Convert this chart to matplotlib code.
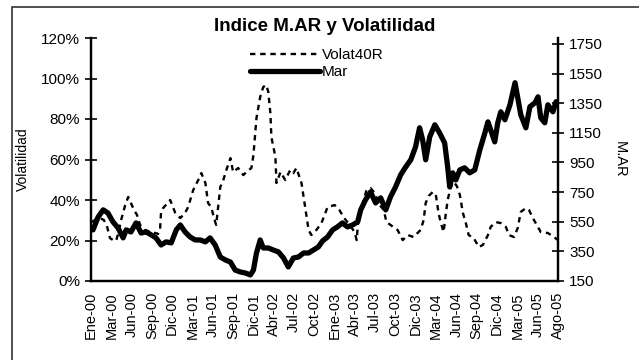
import numpy as np
import matplotlib
matplotlib.use("Agg")
import matplotlib.pyplot as plt
from matplotlib.patches import Rectangle

plt.rcParams['font.family'] = ['Liberation Sans', 'DejaVu Sans']

# trading-day index (one category label every 60 days)
mar_day = [6, 21, 36, 50, 65, 80, 95, 104, 118, 133, 148, 163, 178, 192, 207, 222,
           237, 252, 264, 278, 293, 308, 323, 338, 352, 367, 382, 397, 412, 426, 441,
           456, 471, 480, 489, 500, 509, 524, 539, 554, 569, 583, 598, 613, 628, 643,
           657, 672, 684, 699, 714, 728, 743, 758, 773, 788, 797, 811, 826, 841, 856,
           871, 885, 900, 915, 930, 945, 959, 971, 980, 989, 1001, 1016, 1030, 1045,
           1054, 1060, 1069, 1078, 1090, 1104, 1119, 1134, 1149, 1164, 1173, 1181,
           1193, 1202, 1211, 1223, 1238, 1253, 1261, 1270, 1285, 1297, 1312, 1321,
           1329, 1341, 1350, 1365, 1374, 1380]
mar = [495, 582, 630, 609, 549, 508, 441, 495, 481, 542, 474, 481, 461, 441, 393, 414,
       407, 495, 528, 481, 447, 427, 427, 414, 441, 393, 312, 292, 278, 224, 211,
       204, 191, 224, 339, 427, 373, 373, 359, 346, 305, 245, 305, 312, 339, 339,
       359, 380, 420, 447, 495, 515, 542, 515, 528, 549, 630, 697, 751, 677, 711,
       630, 718, 785, 866, 920, 968, 1055, 1184, 1103, 968, 1123, 1204, 1150, 1082,
       920, 785, 880, 832, 900, 914, 880, 900, 1035, 1150, 1224, 1170,
       1089, 1218, 1292, 1238, 1339, 1488, 1387, 1272, 1184, 1326, 1353, 1393,
       1251, 1218, 1339, 1292, 1360, 1353]

vol_day = [3, 15, 27, 38, 47, 56, 65, 74, 80, 89, 101, 110, 118, 127, 136, 145, 160,
           175, 190, 198, 204, 207, 213, 234, 249, 264, 278, 287, 302, 317, 326, 338,
           346, 355, 367, 370, 382, 391, 400, 412, 420, 435, 450, 459, 474, 480, 489,
           500, 509, 518, 524, 530, 533, 545, 548, 560, 574, 589, 598, 607, 622, 634,
           643, 651, 666, 681, 699, 720, 734, 746, 764, 779, 785, 791, 802, 814, 826,
           838, 853, 865, 873, 885, 897, 906, 921, 936, 953, 974, 983, 989, 998, 1010,
           1019, 1027, 1033, 1042, 1048, 1054, 1063, 1072, 1081, 1090, 1099, 1107,
           1116, 1131, 1146, 1158, 1173, 1181, 1196, 1211, 1226, 1235, 1250, 1261,
           1270, 1285, 1294, 1309, 1329, 1350, 1368, 1380]
vol = [29.1, 30.6, 31.1, 30.1, 27.2, 21.2, 20.2, 19.8, 23.2, 30.1, 37.5, 41.5, 38.5,
       35.1, 32.6, 27.7, 25.2, 24.2, 23.7, 23.2, 25.2, 34.1, 36.0, 40.0, 33.6, 31.1,
       33.6, 36.5, 44.9, 49.9, 53.3, 48.4, 38.5, 36.5, 29.1, 27.7, 46.4, 49.9, 54.8,
       60.7, 53.8, 55.8, 52.3, 53.8, 55.8, 62.2, 80.5, 90.9, 95.8, 96.8, 93.3, 83.0,
       71.1, 61.2, 48.4, 53.8, 49.9, 54.8, 53.3, 55.8, 48.4, 35.1, 25.2, 22.7, 25.2,
       28.6, 36.5, 37.5, 35.1, 31.6, 27.7, 24.2, 20.2, 32.6, 37.5, 44.9, 45.9, 43.5,
       37.5, 35.1, 29.1, 27.7, 26.2, 25.2, 20.2, 22.7, 21.7, 25.2, 30.1, 38.5, 42.0,
       44.0, 42.5, 33.6, 29.1, 24.2, 32.6, 40.0, 46.4, 48.9, 46.9, 42.5, 33.6, 29.1,
       22.7, 21.2, 16.8, 17.8, 22.7, 26.7, 29.1, 28.6, 26.7, 22.7, 21.7, 26.2, 34.1,
       36.0, 35.1, 30.1, 24.2, 23.7, 21.7, 20.2]

tick_labels = ["Ene-00", "Mar-00", "Jun-00", "Sep-00", "Dic-00", "Mar-01", "Jun-01",
               "Sep-01", "Dic-01", "Abr-02", "Jul-02", "Oct-02", "Ene-03", "Abr-03",
               "Jul-03", "Oct-03", "Dic-03", "Mar-04", "Jun-04", "Sep-04", "Dic-04",
               "Mar-05", "Jun-05", "Ago-05"]
tick_step = 60

fig = plt.figure(figsize=(6.39, 3.6), dpi=100)
ax = fig.add_axes([91/639, 1 - 281/360, (558 - 91)/639, (281 - 38)/360])
ax2 = ax.twinx()

pv, = ax.plot(vol_day, np.array(vol) / 100, color='black', lw=1.7,
              linestyle=(0, (2.3, 2.0)), label="Volat40R")
pm, = ax2.plot(mar_day, mar, color='black', lw=3.8, solid_capstyle='round',
               solid_joinstyle='round', label="Mar")

ax.set_xlim(0, tick_step * (len(tick_labels) - 1))
ax.set_xticks(np.arange(len(tick_labels)) * tick_step)
ax.set_xticklabels(tick_labels, rotation=90, fontsize=10.5)
ax.tick_params(axis='x', length=0, pad=8)

ax.set_ylim(0, 1.2)
ax.set_yticks(np.arange(0, 1.21, 0.2))
ax.set_yticklabels(["%d%%" % v for v in range(0, 121, 20)], fontsize=11)
ax.tick_params(axis='y', direction='inout', length=8, width=1.2, pad=4)

ax2.set_ylim(150, 1790)
ax2.set_yticks(np.arange(150, 1751, 200))
ax2.tick_params(axis='y', direction='inout', length=8, width=1.2, labelsize=11, pad=4)

for a in (ax, ax2):
    a.spines['top'].set_visible(False)
    for s in ('left', 'right', 'bottom'):
        a.spines[s].set_linewidth(1.6)

ax.set_ylabel("Volatilidad", fontsize=10, labelpad=8)
ax2.set_ylabel("M.AR", fontsize=10.5, rotation=270, labelpad=17)
ax.set_title("Indice M.AR y Volatilidad", fontsize=13.5, fontweight='bold', pad=5)

ax2.legend(handles=[pv, pm], loc='upper left', frameon=False, fontsize=11,
           handlelength=4.6, handletextpad=0.1, labelspacing=0.2,
           borderpad=0, borderaxespad=0,
           bbox_to_anchor=(250/639, 1 - 48/360), bbox_transform=fig.transFigure)

# outer chart frame
fig.patches.append(Rectangle((12/639, -0.05), 1.1, 1.05 - 7/360, fill=False,
                             edgecolor='#222222', lw=1.1, transform=fig.transFigure))

fig.savefig("out.png", dpi=100)
